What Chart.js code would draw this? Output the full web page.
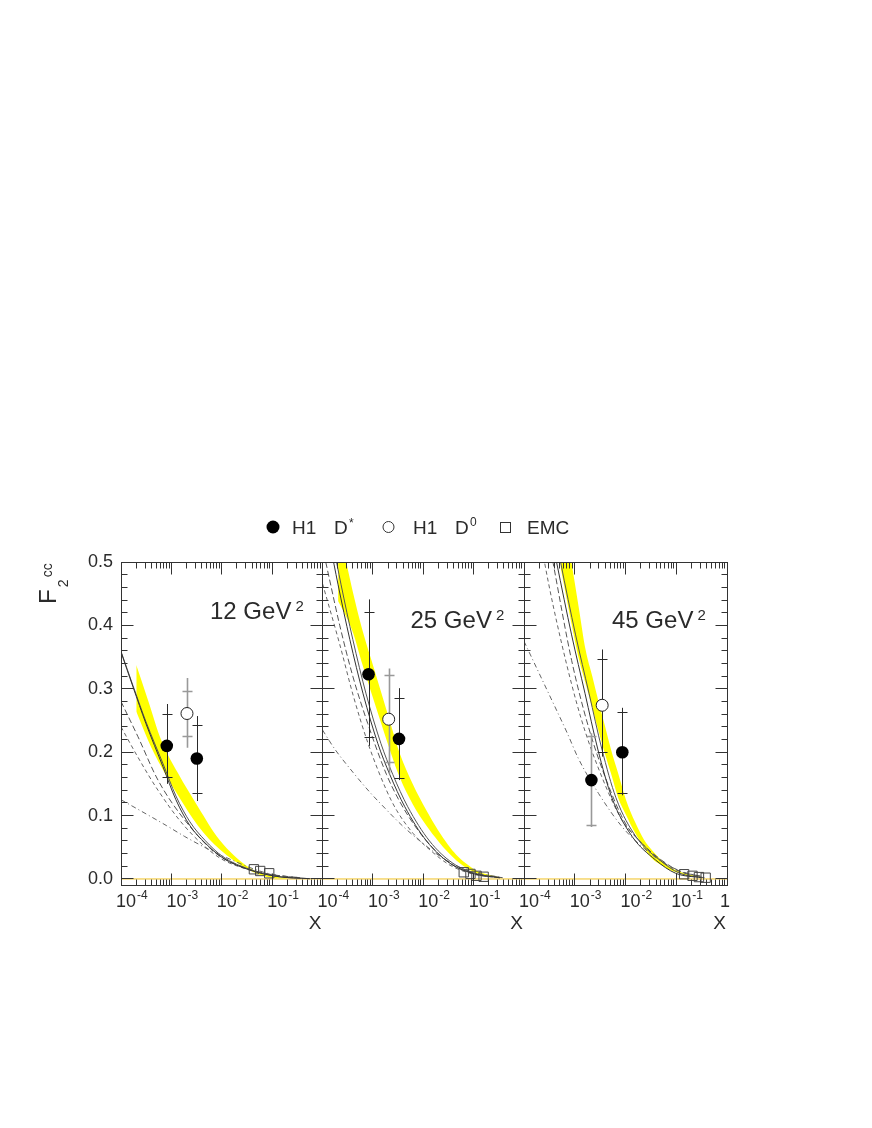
<!DOCTYPE html>
<html>
<head>
<meta charset="utf-8">
<script src="https://cdn.jsdelivr.net/npm/chart.js@4.4.1/dist/chart.umd.min.js"></script>
<style>
  body { margin: 0; background: #fff; }
  #wrap { position: relative; width: 872px; height: 1128px; }
  #wrap canvas { position: absolute; left: 0; top: 0; }
</style>
</head>
<body>
<div id="wrap">
  <canvas id="c12" width="872" height="1128"></canvas>
  <canvas id="c25" width="872" height="1128"></canvas>
  <canvas id="c45" width="872" height="1128"></canvas>
</div>
<script>
// axis ticks
const yTicks = [0, 0.1, 0.2, 0.3, 0.4, 0.5];
const yTickLabels = ['0.0', '0.1', '0.2', '0.3', '0.4', '0.5'];
const xDecades = [1e-4, 1e-3, 1e-2, 1e-1, 1];
const xTickExps = ['-4', '-3', '-2', '-1', ''];
const q2Labels = ['12', '25', '45'];

// ---- Q2 = 12 GeV2 ----
const dstarX12 = [8.1e-4, 3.2e-3];
const dstarY12 = [0.210, 0.190];
const dstarTotLo12 = [0.150, 0.123];
const dstarTotHi12 = [0.276, 0.257];
const dstarStatLo12 = [0.161, 0.135];
const dstarStatHi12 = [0.260, 0.243];
const d0X12 = [2.04e-3];
const d0Y12 = [0.261];
const d0TotLo12 = [0.207];
const d0TotHi12 = [0.317];
const d0StatLo12 = [0.225];
const d0StatHi12 = [0.297];
const emcX12 = [0.0435, 0.058, 0.0875];
const emcY12 = [0.0153, 0.0126, 0.0090];
const bandX12 = [2.01e-4, 3.44e-4, 6.3e-4, 1.35e-3, 3.37e-3, 9.08e-3, 3.31e-2, 7.64e-2, 0.2];
const bandHi12 = [0.3375, 0.282, 0.219, 0.167, 0.114, 0.0615, 0.0194, 0.0063, 0.0008];
const bandLo12 = [0.264, 0.219, 0.177, 0.132, 0.084, 0.0467, 0.0151, 0.0036, 0.0004];
const solidX12 = [1e-4, 1.73e-4, 3.13e-4, 6.81e-4, 1.23e-3, 2.34e-3, 4.65e-3, 1.06e-2, 3.63e-2, 0.124, 0.56];
const solidAY12 = [0.358, 0.303, 0.245, 0.177, 0.125, 0.084, 0.057, 0.033, 0.014, 0.004, 0.0005];
const solidBY12 = [0.359, 0.305, 0.248, 0.182, 0.131, 0.090, 0.061, 0.035, 0.015, 0.004, 0.0005];
const dashX12 = [1e-4, 2.17e-4, 5.42e-4, 1.84e-3, 8.41e-3, 2.84e-2, 9.03e-2, 0.356];
const dashAY12 = [0.280, 0.2245, 0.156, 0.093, 0.038, 0.018, 0.0075, 0.002];
const dashBY12 = [0.240, 0.192, 0.140, 0.083, 0.035, 0.0165, 0.007, 0.002];
const dotX12 = [1e-4, 3.99e-4, 8.07e-4, 1.84e-3, 5.83e-3, 1.69e-2, 3.63e-2, 9.03e-2, 0.356];
const dotY12 = [0.125, 0.098, 0.084, 0.067, 0.0457, 0.029, 0.018, 0.008, 0.0015];

// ---- Q2 = 25 GeV2 ----
const dstarX25 = [8.2e-4, 3.3e-3];
const dstarY25 = [0.323, 0.221];
const dstarTotLo25 = [0.210, 0.156];
const dstarTotHi25 = [0.441, 0.301];
const dstarStatLo25 = [0.224, 0.160];
const dstarStatHi25 = [0.421, 0.286];
const d0X25 = [2.06e-3];
const d0Y25 = [0.252];
const d0TotLo25 = [0.166];
const d0TotHi25 = [0.332];
const d0StatLo25 = [0.184];
const d0StatHi25 = [0.322];
const emcX25 = [0.0637, 0.0865, 0.114, 0.158];
const emcY25 = [0.0106, 0.0080, 0.0050, 0.0035];
const bandX25 = [2.04e-4, 2.99e-4, 4.05e-4, 5.94e-4, 9.38e-4, 1.48e-3, 2.34e-3, 3.42e-3, 6.19e-3, 1.16e-2, 1.97e-2, 3.10e-2, 4.56e-2, 8.38e-2, 0.114, 0.36];
const bandHi25 = [0.558, 0.498, 0.451, 0.398, 0.345, 0.293, 0.240, 0.198, 0.150, 0.108, 0.077, 0.054, 0.038, 0.020, 0.013, 0.002];
const bandLo25 = [0.438, 0.413, 0.388, 0.343, 0.293, 0.244, 0.196, 0.160, 0.118, 0.084, 0.060, 0.042, 0.029, 0.014, 0.009, 0.001];
const solidAX25 = [1.40e-4, 2.04e-4, 3.48e-4, 6.40e-4, 1.25e-3, 2.16e-3, 4.30e-3, 1.16e-2, 3.36e-2, 0.105, 0.33];
const solidBX25 = [1.60e-4, 2.34e-4, 3.99e-4, 7.33e-4, 1.44e-3, 2.48e-3, 4.92e-3, 1.33e-2, 3.85e-2, 0.120, 0.378];
const solidY25 = [0.53, 0.464, 0.378, 0.292, 0.214, 0.165, 0.114, 0.060, 0.025, 0.008, 0.002];
const dashAX25 = [1.16e-4, 1.40e-4, 2.20e-4, 3.99e-4, 7.93e-4, 1.86e-3, 3.42e-3, 6.79e-3, 1.35e-2, 3.36e-2, 0.105, 0.33];
const dashAY25 = [0.50, 0.47, 0.40, 0.32, 0.245, 0.165, 0.122, 0.084, 0.054, 0.025, 0.008, 0.002];
const dashBX25 = [1e-4, 2.20e-4, 4.05e-4, 7.93e-4, 1.86e-3, 2.98e-3, 6.28e-3, 1.35e-2, 3.36e-2, 0.105, 0.33];
const dashBY25 = [0.466, 0.37, 0.29, 0.215, 0.14, 0.108, 0.072, 0.046, 0.022, 0.007, 0.002];
const dotX25 = [1e-4, 1.75e-4, 4.05e-4, 8.67e-4, 1.72e-3, 3.97e-3, 9.91e-3, 2.67e-2, 8.38e-2, 0.33];
const dotY25 = [0.235, 0.205, 0.168, 0.137, 0.112, 0.083, 0.056, 0.031, 0.012, 0.003];

// ---- Q2 = 45 GeV2 ----
const dstarX45 = [2.13e-3, 8.65e-3];
const dstarY45 = [0.156, 0.200];
const dstarTotLo45 = [0.082, 0.132];
const dstarTotHi45 = [0.230, 0.270];
const dstarStatLo45 = [0.085, 0.135];
const dstarStatHi45 = [0.225, 0.264];
const d0X45 = [3.47e-3];
const d0Y45 = [0.274];
const d0TotLo45 = [0.193];
const d0TotHi45 = [0.362];
const d0StatLo45 = [0.200];
const d0StatHi45 = [0.347];
const emcX45 = [0.143, 0.209, 0.28, 0.38];
const emcY45 = [0.0075, 0.0050, 0.0030, 0.0020];
const bandX45 = [5.25e-4, 8.67e-4, 1.19e-3, 1.64e-3, 2.21e-3, 2.98e-3, 3.92e-3, 5.15e-3, 7.26e-3, 1.02e-2, 1.56e-2, 2.33e-2, 3.44e-2, 5.06e-2, 6.97e-2, 9.59e-2, 0.174, 0.315];
const bandHi45 = [0.606, 0.498, 0.430, 0.361, 0.320, 0.278, 0.242, 0.205, 0.165, 0.125, 0.089, 0.0615, 0.044, 0.030, 0.021, 0.0142, 0.0075, 0.0032];
const bandLo45 = [0.492, 0.402, 0.349, 0.308, 0.270, 0.232, 0.198, 0.167, 0.127, 0.1015, 0.072, 0.049, 0.031, 0.022, 0.015, 0.0112, 0.0047, 0.0025];
const solidAX45 = [3.81e-4, 4.38e-4, 8.67e-4, 1.59e-3, 2.84e-3, 5.40e-3, 1.36e-2, 3.90e-2, 9.73e-2, 0.315];
const solidBX45 = [4.58e-4, 5.25e-4, 1.04e-3, 1.91e-3, 3.42e-3, 6.49e-3, 1.61e-2, 4.69e-2, 0.117, 0.36];
const solidY45 = [0.525, 0.50, 0.385, 0.293, 0.205, 0.128, 0.0667, 0.030, 0.009, 0.002];
const dashAX45 = [3.18e-4, 3.76e-4, 8.67e-4, 1.86e-3, 3.97e-3, 9.91e-3, 2.12e-2, 5.06e-2, 0.126, 0.315];
const dashAY45 = [0.53, 0.498, 0.345, 0.240, 0.161, 0.088, 0.056, 0.030, 0.011, 0.004];
const dashBX45 = [2.20e-4, 2.56e-4, 5.50e-4, 1.36e-3, 3.42e-3, 8.53e-3, 1.83e-2, 4.03e-2, 0.1005, 0.315];
const dashBY45 = [0.53, 0.498, 0.372, 0.251, 0.161, 0.093, 0.0615, 0.035, 0.014, 0.004];
const dotX45 = [1e-4, 2.45e-4, 4.05e-4, 7.13e-4, 1.18e-3, 2.94e-3, 8.53e-3, 2.12e-2, 5.06e-2, 0.126, 0.315];
const dotY45 = [0.375, 0.309, 0.272, 0.230, 0.19, 0.135, 0.0825, 0.051, 0.028, 0.012, 0.004];

// thin yellow line along zero
const zeroX = [1e-4, 1];
const zeroY = [0, 0];

const FONT = '"Liberation Sans", Arial, sans-serif';
const INK = '#2a2a2a';

function pts(xs, ys) { return xs.map((x, i) => ({ x: x, y: ys[i] })); }

function curve(xs, ys, color, dash) {
  return {
    data: pts(xs, ys), showLine: true, borderColor: color, borderWidth: 1, borderDash: dash,
    pointRadius: 0, pointHitRadius: 0, fill: false, cubicInterpolationMode: 'monotone', order: 1
  };
}

// frame, inward ticks, tick labels, error bars
const panelAxes = {
  id: 'panelAxes',
  beforeDatasetDraw(chart, args) {
    const ds = chart.data.datasets[args.index];
    if (!ds.totLo) return;
    const xs = chart.scales.x, ys = chart.scales.y, ctx = chart.ctx;
    ctx.save();
    ds.data.forEach((p, i) => {
      const px = Math.round(xs.getPixelForValue(p.x)) + 0.5;
      ctx.strokeStyle = ds.errColor[i];
      ctx.lineWidth = ds.errColor[i] === INK ? 1 : 1.6;
      ctx.beginPath();
      ctx.moveTo(px, ys.getPixelForValue(ds.totLo[i]));
      ctx.lineTo(px, ys.getPixelForValue(ds.totHi[i]));
      [ds.statLo[i], ds.statHi[i]].forEach(v => {
        const py = Math.round(ys.getPixelForValue(v)) + 0.5;
        ctx.moveTo(px - 5, py);
        ctx.lineTo(px + 5, py);
      });
      ctx.stroke();
    });
    ctx.restore();
  },
  afterDatasetsDraw(chart, args, o) {
    const ctx = chart.ctx, xs = chart.scales.x, ys = chart.scales.y, a = chart.chartArea;
    const L = Math.floor(a.left) + 0.5, R = Math.floor(a.right) + 0.5;
    const T = Math.floor(a.top) + 0.5, B = Math.floor(a.bottom) + 0.5;
    ctx.save();
    ctx.strokeStyle = '#333';
    ctx.lineWidth = 1;
    ctx.strokeRect(L, T, R - L, B - T);
    ctx.beginPath();
    for (let k = 0; k <= 25; k++) {
      const py = Math.floor(ys.getPixelForValue(k * 0.02)) + 0.5;
      const len = k % 5 === 0 ? 12 : 6;
      ctx.moveTo(L, py); ctx.lineTo(L + len, py);
      ctx.moveTo(R, py); ctx.lineTo(R - len, py);
    }
    xDecades.forEach((d, i) => {
      const last = i === xDecades.length - 1 ? 1 : 9;
      for (let k = 1; k <= last; k++) {
        const px = Math.floor(xs.getPixelForValue(d * k)) + 0.5;
        const len = k === 1 ? 12 : 6;
        ctx.moveTo(px, B); ctx.lineTo(px, B - len);
        ctx.moveTo(px, T); ctx.lineTo(px, T + len);
      }
    });
    ctx.stroke();

    ctx.fillStyle = INK;
    ctx.textBaseline = 'alphabetic';
    ctx.textAlign = 'left';
    // x tick labels
    xDecades.forEach((d, i) => {
      const px = xs.getPixelForValue(d);
      ctx.font = '18px ' + FONT;
      if (xTickExps[i] === '') {
        if (o.showOne) ctx.fillText('1', px - 7, a.bottom + 22);
        return;
      }
      ctx.fillText('10', px - 5, a.bottom + 22);
      const w = ctx.measureText('10').width;
      ctx.font = '12px ' + FONT;
      ctx.fillText(xTickExps[i], px - 5 + w + 1, a.bottom + 14);
    });
    // x axis title
    ctx.font = '19px ' + FONT;
    ctx.textAlign = 'right';
    ctx.fillText('X', a.right - 1, a.bottom + 44);
    // y tick labels
    if (o.yLabels) {
      ctx.font = '18px ' + FONT;
      ctx.textAlign = 'right';
      ctx.textBaseline = 'middle';
      yTicks.forEach((v, i) => ctx.fillText(yTickLabels[i], a.left - 8, ys.getPixelForValue(v)));
    }
    // Q2 label
    ctx.textAlign = 'left';
    ctx.textBaseline = 'alphabetic';
    ctx.font = '24px ' + FONT;
    const t = o.q2 + ' GeV';
    ctx.fillText(t, a.left + o.labelDx, a.top + o.labelDy);
    const tw = ctx.measureText(t).width;
    ctx.font = '15px ' + FONT;
    ctx.fillText('2', a.left + o.labelDx + tw + 4, a.top + o.labelDy - 8);

    if (o.decor) {
      // y title F2cc, rotated
      ctx.save();
      ctx.translate(a.left - 65, a.top + 42);
      ctx.rotate(-Math.PI / 2);
      ctx.font = '24px ' + FONT;
      ctx.fillText('F', 0, 0);
      const fw = ctx.measureText('F').width;
      ctx.font = '14px ' + FONT;
      ctx.fillText('2', fw + 2, 12);
      ctx.fillText('cc', fw + 12, -4);
      ctx.restore();

      // legend
      const ly = a.top - 35;
      ctx.fillStyle = '#000';
      ctx.beginPath(); ctx.arc(273, ly, 6.5, 0, Math.PI * 2); ctx.fill();
      ctx.strokeStyle = '#333';
      ctx.lineWidth = 1;
      ctx.beginPath(); ctx.arc(388.5, ly, 5.5, 0, Math.PI * 2); ctx.stroke();
      ctx.strokeRect(500.5, ly - 4.5, 10, 10);
      ctx.fillStyle = INK;
      ctx.font = '19px ' + FONT;
      ctx.fillText('H1', 292, ly + 7);
      ctx.fillText('D', 334, ly + 7);
      ctx.fillText('H1', 413, ly + 7);
      ctx.fillText('D', 455, ly + 7);
      ctx.fillText('EMC', 527, ly + 7);
      ctx.font = '12px ' + FONT;
      ctx.fillText('*', 349, ly);
      ctx.fillText('0', 470, ly - 1);
    }
    ctx.restore();
  }
};

function makePanel(id, left, right, d, o) {
  const datasets = [
    { label: 'H1 D*', data: pts(d.dsX, d.dsY), showLine: false, pointStyle: 'circle', pointRadius: 6.3,
      backgroundColor: '#000', borderColor: '#000', borderWidth: 0,
      totLo: d.dsTotLo, totHi: d.dsTotHi, statLo: d.dsStatLo, statHi: d.dsStatHi, errColor: d.dsErr, order: 0 },
    { label: 'H1 D0', data: pts(d.d0X, d.d0Y), showLine: false, pointStyle: 'circle', pointRadius: 6,
      backgroundColor: '#fff', borderColor: '#222', borderWidth: 1,
      totLo: d.d0TotLo, totHi: d.d0TotHi, statLo: d.d0StatLo, statHi: d.d0StatHi, errColor: d.d0Err, order: 0 },
    { label: 'EMC', data: pts(d.emcX, d.emcY), showLine: false, pointStyle: 'rect', pointRadius: 6.6,
      backgroundColor: 'rgba(0,0,0,0)', borderColor: '#444', borderWidth: 1, order: 0 },
    curve(d.solidAX, d.solidAY, '#333', []),
    curve(d.solidBX, d.solidBY, '#555', []),
    curve(d.dashAX, d.dashAY, '#555', [6, 3]),
    curve(d.dashBX, d.dashBY, '#666', [4, 3]),
    curve(d.dotX, d.dotY, '#666', [5, 3, 1, 3]),
    { data: pts(d.bandX, d.bandHi), showLine: true, borderWidth: 0, borderColor: 'rgba(0,0,0,0)',
      pointRadius: 0, fill: '+1', backgroundColor: '#ffff00', cubicInterpolationMode: 'monotone', order: 2 },
    { data: pts(d.bandX, d.bandLo), showLine: true, borderWidth: 0, borderColor: 'rgba(0,0,0,0)',
      pointRadius: 0, fill: false, cubicInterpolationMode: 'monotone', order: 2 },
    { data: pts(zeroX, zeroY), showLine: true, borderWidth: 1, borderColor: '#f0c020',
      pointRadius: 0, fill: false, order: 3 }
  ];
  return new Chart(document.getElementById(id), {
    type: 'line',
    data: { datasets: datasets },
    options: {
      responsive: false,
      animation: false,
      events: [],
      layout: { padding: { left: left, right: 872 - right, top: 562, bottom: 1128 - 885 } },
      scales: {
        x: { type: 'logarithmic', min: 1e-4, max: 1, display: false },
        y: { type: 'linear', min: -0.0095, max: 0.5, display: false }
      },
      plugins: { legend: { display: false }, tooltip: { enabled: false }, panelAxes: o }
    },
    plugins: [panelAxes]
  });
}

makePanel('c12', 121, 322.5, {
  dsX: dstarX12, dsY: dstarY12, dsTotLo: dstarTotLo12, dsTotHi: dstarTotHi12, dsStatLo: dstarStatLo12, dsStatHi: dstarStatHi12, dsErr: [INK, INK],
  d0X: d0X12, d0Y: d0Y12, d0TotLo: d0TotLo12, d0TotHi: d0TotHi12, d0StatLo: d0StatLo12, d0StatHi: d0StatHi12, d0Err: ['#999'],
  emcX: emcX12, emcY: emcY12, bandX: bandX12, bandHi: bandHi12, bandLo: bandLo12,
  solidAX: solidX12, solidAY: solidAY12, solidBX: solidX12, solidBY: solidBY12,
  dashAX: dashX12, dashAY: dashAY12, dashBX: dashX12, dashBY: dashBY12, dotX: dotX12, dotY: dotY12
}, { q2: q2Labels[0], labelDx: 89, labelDy: 57, yLabels: true, decor: true, showOne: false });

makePanel('c25', 322.5, 524, {
  dsX: dstarX25, dsY: dstarY25, dsTotLo: dstarTotLo25, dsTotHi: dstarTotHi25, dsStatLo: dstarStatLo25, dsStatHi: dstarStatHi25, dsErr: [INK, INK],
  d0X: d0X25, d0Y: d0Y25, d0TotLo: d0TotLo25, d0TotHi: d0TotHi25, d0StatLo: d0StatLo25, d0StatHi: d0StatHi25, d0Err: ['#999'],
  emcX: emcX25, emcY: emcY25, bandX: bandX25, bandHi: bandHi25, bandLo: bandLo25,
  solidAX: solidAX25, solidAY: solidY25, solidBX: solidBX25, solidBY: solidY25,
  dashAX: dashAX25, dashAY: dashAY25, dashBX: dashBX25, dashBY: dashBY25, dotX: dotX25, dotY: dotY25
}, { q2: q2Labels[1], labelDx: 88, labelDy: 66, yLabels: false, decor: false, showOne: false });

makePanel('c45', 524, 727, {
  dsX: dstarX45, dsY: dstarY45, dsTotLo: dstarTotLo45, dsTotHi: dstarTotHi45, dsStatLo: dstarStatLo45, dsStatHi: dstarStatHi45, dsErr: ['#999', INK],
  d0X: d0X45, d0Y: d0Y45, d0TotLo: d0TotLo45, d0TotHi: d0TotHi45, d0StatLo: d0StatLo45, d0StatHi: d0StatHi45, d0Err: [INK],
  emcX: emcX45, emcY: emcY45, bandX: bandX45, bandHi: bandHi45, bandLo: bandLo45,
  solidAX: solidAX45, solidAY: solidY45, solidBX: solidBX45, solidBY: solidY45,
  dashAX: dashAX45, dashAY: dashAY45, dashBX: dashBX45, dashBY: dashBY45, dotX: dotX45, dotY: dotY45
}, { q2: q2Labels[2], labelDx: 88, labelDy: 66, yLabels: false, decor: false, showOne: true });
</script>
</body>
</html>
